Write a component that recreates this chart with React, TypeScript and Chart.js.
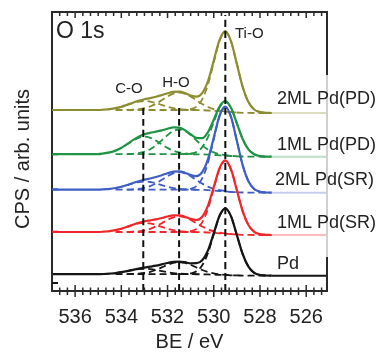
import React, { useEffect, useRef } from "react";
import { Chart, registerables } from "chart.js";

Chart.register(...registerables);

// ---------- data ----------
const X_MIN = 525.1;
const X_MAX = 537;
const X_TICKS = [536, 534, 532, 530, 528, 526];

// binding energies (eV)
const X_LEFT = [537, 536, 535.5, 535.0];
const X_FIT = [
  534.75, 534.5, 534.25, 534.0, 533.75, 533.5, 533.25, 533.0, 532.75, 532.5,
  532.25, 532.0, 531.75, 531.5, 531.25, 531.0, 530.75, 530.5, 530.25, 530.0,
  529.75, 529.5, 529.25, 529.0, 528.75, 528.5, 528.25, 528.0, 527.75, 527.5,
];
const CO_START = 2; // first X_FIT index of C-O component
const HO_START = 4; // first X_FIT index of H-O component
const TIO_START = 13; // first X_FIT index of Ti-O component
const BG_START = 2;

const SAMPLES = ["Pd", "1ML Pd(SR)", "2ML Pd(SR)", "1ML Pd(PD)", "2ML Pd(PD)"];
const OFFSETS = [15.3, 56, 98.3, 134.3, 178];
const AXIS_MARKS = [8, 59.3, 101.7, 136.7, 181];

const REF_POS = [533.05, 531.5, 529.5];
const REF_NAMES = ["C-O", "H-O", "Ti-O"];
const REF_TOPS = [184, 184, 276];

// measured spectra (relative to each spectrum's own offset)
const ENV_PD = [1.5, 1.5, 1.5, 1.5, 1.7, 2.1, 2.6, 3.5, 4.6, 5.9, 7.1, 8.1, 9.0, 10.0, 11.3, 12.7, 13.9, 14.1, 13.5, 12.4, 12.5, 15.5, 25.3, 42.6, 60.0, 67.3, 59.2, 40.6, 21.7, 9.1, 2.9, 0.7, 0.2, 0];
const ENV_1SR = [3, 3, 3, 3, 3.4, 3.9, 4.9, 6.3, 8.2, 10.3, 12.2, 13.7, 14.7, 15.7, 17.0, 18.5, 19.6, 19.6, 18.3, 16.1, 15.0, 18.3, 29.4, 48.0, 66.8, 74.6, 65.3, 44.8, 23.9, 10.0, 3.2, 0.8, 0.2, 0];
const ENV_2SR = [3, 3, 3, 3, 3.4, 3.8, 4.7, 6.0, 7.7, 9.7, 11.5, 13.0, 14.2, 15.7, 17.5, 19.5, 21.1, 21.4, 20.0, 17.6, 16.5, 20.5, 33.5, 55.1, 77.1, 86.1, 75.5, 51.7, 27.6, 11.5, 3.7, 0.9, 0.2, 0];
const ENV_1PD = [2.5, 2.5, 2.5, 2.5, 3.3, 4.3, 6.1, 8.8, 12.5, 16.5, 20.0, 22.5, 23.9, 25.0, 26.3, 27.9, 29.3, 29.0, 26.6, 22.5, 18.8, 18.5, 24.6, 37.0, 50.2, 55.5, 48.6, 33.3, 17.7, 7.4, 2.4, 0.6, 0.1, 0];
const ENV_2PD = [3, 3, 3, 3, 3.4, 3.9, 4.8, 6.2, 8.2, 10.3, 12.2, 13.8, 14.9, 16.3, 17.9, 19.7, 21.1, 21.3, 19.9, 17.5, 16.3, 19.9, 32.0, 52.4, 73.1, 81.6, 71.5, 49.0, 26.2, 10.9, 3.5, 0.9, 0.2, 0];

// backgrounds on X_FIT
const BG_PD = [1.5, 1.5, 1.5, 1.5, 1.5, 1.5, 1.5, 1.5, 1.5, 1.5, 1.5, 1.5, 1.5, 1.5, 1.5, 1.5, 1.45, 1.4, 1.25, 1.05, 0.8, 0.6, 0.4, 0.25, 0.1, 0.05, 0, 0, 0, 0];
const BG_1SR = [3, 3, 3, 3, 3, 3, 3, 3, 3, 3, 3, 3, 3, 3, 3, 3, 2.9, 2.8, 2.5, 2.1, 1.7, 1.3, 0.8, 0.5, 0.2, 0.1, 0, 0, 0, 0];
const BG_2SR = [3, 3, 3, 3, 3, 3, 3, 3, 3, 3, 3, 3, 3, 3, 3, 3, 2.9, 2.8, 2.5, 2.1, 1.7, 1.3, 0.8, 0.5, 0.2, 0.1, 0, 0, 0, 0];
const BG_1PD = [2.5, 2.5, 2.5, 2.5, 2.5, 2.5, 2.5, 2.5, 2.5, 2.5, 2.5, 2.5, 2.5, 2.5, 2.5, 2.5, 2.4, 2.3, 2.1, 1.75, 1.4, 1.05, 0.7, 0.4, 0.2, 0.1, 0, 0, 0, 0];
const BG_2PD = [3, 3, 3, 3, 3, 3, 3, 3, 3, 3, 3, 3, 3, 3, 3, 3, 2.9, 2.8, 2.5, 2.1, 1.7, 1.3, 0.8, 0.5, 0.2, 0.1, 0, 0, 0, 0];

// fitted components (height above background)
const CO_PD = [1.1, 1.94, 3.04, 4.19, 5.07, 5.4, 5.07, 4.19, 3.04, 1.94, 1.1, 0.55, 0.24, 0.09, 0.03];
const HO_PD = [0.07, 0.2, 0.53, 1.21, 2.44, 4.32, 6.76, 9.3, 11.26, 12, 11.26, 9.3, 6.76, 4.32, 2.44, 1.21, 0.53, 0.2, 0.07, 0.02];
const TIO_PD = [0.02, 0.15, 0.74, 2.92, 9.0, 21.6, 40.3, 58.7, 66.5, 58.7, 40.3, 21.6, 9.0, 2.92, 0.74, 0.15];

const CO_1SR = [1.85, 3.28, 5.12, 7.05, 8.54, 9.1, 8.54, 7.05, 5.12, 3.28, 1.85, 0.92, 0.4, 0.15, 0.05];
const HO_1SR = [0.09, 0.27, 0.69, 1.59, 3.19, 5.65, 8.84, 12.17, 14.73, 15.7, 14.73, 12.17, 8.84, 5.65, 3.19, 1.59, 0.69, 0.27, 0.09, 0.03];
const TIO_1SR = [0.02, 0.16, 0.81, 3.2, 9.88, 23.7, 44.3, 64.4, 73, 64.4, 44.3, 23.7, 9.88, 3.2, 0.81, 0.16];

const CO_2SR = [1.66, 2.95, 4.62, 6.36, 7.69, 8.2, 7.69, 6.36, 4.62, 2.95, 1.66, 0.83, 0.36, 0.14, 0.05];
const HO_2SR = [0.1, 0.3, 0.77, 1.77, 3.55, 6.3, 9.85, 13.56, 16.4, 17.5, 16.4, 13.56, 9.85, 6.3, 3.55, 1.77, 0.77, 0.3, 0.1, 0.03];
const TIO_2SR = [0.03, 0.19, 0.94, 3.71, 11.43, 27.4, 51.2, 74.6, 84.5, 74.6, 51.2, 27.4, 11.43, 3.71, 0.94, 0.19];

const CO_1PD = [3.55, 6.3, 9.85, 13.56, 16.4, 17.5, 16.4, 13.56, 9.85, 6.3, 3.55, 1.77, 0.77, 0.3, 0.1];
const HO_1PD = [0.14, 0.42, 1.09, 2.49, 5.01, 8.89, 13.9, 19.1, 23.2, 24.7, 23.2, 19.1, 13.9, 8.89, 5.01, 2.49, 1.09, 0.42, 0.15, 0.05];
const TIO_1PD = [0.02, 0.12, 0.6, 2.37, 7.31, 17.5, 32.8, 47.7, 54, 47.7, 32.8, 17.5, 7.31, 2.37, 0.6, 0.12];

const CO_2PD = [1.8, 3.2, 5.1, 7.0, 8.4, 9.0, 8.4, 7.0, 5.1, 3.2, 1.8, 0.9, 0.4, 0.15, 0.05];
const HO_2PD = [0.1, 0.3, 0.77, 1.76, 3.53, 6.26, 9.8, 13.5, 16.3, 17.4, 16.3, 13.5, 9.8, 6.26, 3.53, 1.76, 0.77, 0.3, 0.1, 0.03];
const TIO_2PD = [0.02, 0.18, 0.89, 3.5, 10.8, 26.0, 48.5, 70.6, 80, 70.6, 48.5, 26.0, 10.8, 3.5, 0.89, 0.18];

const ENVS = [ENV_PD, ENV_1SR, ENV_2SR, ENV_1PD, ENV_2PD];
const BGS = [BG_PD, BG_1SR, BG_2SR, BG_1PD, BG_2PD];
const COS = [CO_PD, CO_1SR, CO_2SR, CO_1PD, CO_2PD];
const HOS = [HO_PD, HO_1SR, HO_2SR, HO_1PD, HO_2PD];
const TIOS = [TIO_PD, TIO_1SR, TIO_2SR, TIO_1PD, TIO_2PD];

const COLORS = ["#151515", "#f0262b", "#3f5ec4", "#219345", "#8c8c30"];
const FADED = ["#151515", "rgba(240,38,43,0.3)", "rgba(63,94,196,0.3)", "rgba(33,147,69,0.3)", "rgba(140,140,48,0.3)"];
const FONT = "'Liberation Sans', Arial, Helvetica, sans-serif";

function buildDatasets() {
  const ds: any[] = [];
  REF_POS.forEach((v, i) => {
    ds.push({
      data: [{ x: v, y: 0 }, { x: v, y: REF_TOPS[i] }],
      borderColor: "#111",
      borderWidth: 2,
      borderDash: [7, 4],
    });
  });
  const xEnv = X_LEFT.concat(X_FIT);
  ENVS.forEach((env, i) => {
    ds.push({
      data: xEnv.map((x, k) => ({ x, y: OFFSETS[i] + env[k] })),
      borderColor: COLORS[i],
      borderWidth: 2.2,
    });
  });
  const comp = (arr: number[], start: number, i: number) =>
    arr.map((v, k) => ({ x: X_FIT[start + k], y: OFFSETS[i] + BGS[i][start + k] + v }));
  for (let i = 0; i < ENVS.length; i++) {
    const dashed = { borderColor: COLORS[i], borderWidth: 1.8, borderDash: [7, 4] };
    ds.push({ data: comp(TIOS[i], TIO_START, i), ...dashed });
    ds.push({ data: comp(HOS[i], HO_START, i), ...dashed });
    ds.push({ data: comp(COS[i], CO_START, i), ...dashed });
    ds.push({
      data: X_FIT.slice(BG_START).map((x, k) => ({ x, y: OFFSETS[i] + BGS[i][BG_START + k] })),
      ...dashed,
    });
    ds.push({
      data: [{ x: X_FIT[X_FIT.length - 1], y: OFFSETS[i] }, { x: X_MIN, y: OFFSETS[i] }],
      borderColor: FADED[i],
      borderWidth: 2,
    });
  }
  return ds;
}

const decorPlugin = {
  id: "decor",
  afterDraw(chart: any) {
    const { ctx, chartArea } = chart;
    const { left, right, top, bottom } = chartArea;
    const xs = chart.scales.x;
    const ys = chart.scales.y;
    ctx.save();
    const line = (x1: number, y1: number, x2: number, y2: number) => {
      ctx.beginPath();
      ctx.moveTo(x1, y1);
      ctx.lineTo(x2, y2);
      ctx.stroke();
    };
    ctx.lineCap = "butt";
    ctx.strokeStyle = "#2a2a2a";
    ctx.lineWidth = 2;
    line(left, top - 1, left, bottom + 1);
    line(left, top, right, top);
    line(left, bottom, right, bottom);
    line(right, top - 1, right, 75);
    line(right, 257, right, bottom + 1);
    ctx.strokeStyle = "#d0d0d0";
    line(right, 75, right, 257);

    // ticks every 1/3 eV, major every 2 eV
    ctx.strokeStyle = "#2a2a2a";
    ctx.lineWidth = 1.5;
    for (let k = 0; k <= 36; k++) {
      const v = 525 + k / 3;
      if (v < X_MIN - 1e-6 || v > X_MAX - 0.1) continue;
      const px = xs.getPixelForValue(v);
      const major = k % 6 === 3;
      line(px, bottom - (major ? 6 : 3.5), px, bottom + (major ? 6 : 4));
      line(px, top, px, top + (major ? 6 : 4));
    }
    // left axis marks
    ctx.lineWidth = 2;
    AXIS_MARKS.forEach((v, i) => {
      const py = ys.getPixelForValue(v);
      ctx.strokeStyle = COLORS[i];
      line(left, py, left + 6, py);
    });

    ctx.fillStyle = "#222";
    ctx.textBaseline = "middle";
    // y title
    ctx.save();
    ctx.translate(23.5, 159);
    ctx.rotate(-Math.PI / 2);
    ctx.textAlign = "center";
    ctx.font = `20px ${FONT}`;
    ctx.fillText("CPS / arb. units", 0, 0);
    ctx.restore();

    ctx.textAlign = "left";
    ctx.font = `23px ${FONT}`;
    ctx.fillText("O 1s", 56, 32);

    ctx.font = `15px ${FONT}`;
    ctx.textAlign = "center";
    ctx.fillText(REF_NAMES[0], 129, 88.5);
    ctx.fillText(REF_NAMES[1], 176, 82.5);
    ctx.textAlign = "left";
    ctx.fillText(REF_NAMES[2], 235, 34);

    ctx.font = `18px ${FONT}`;
    const labelY = [264, 223, 180.5, 145.5, 99];
    SAMPLES.forEach((s, i) => {
      ctx.fillText(s, i === 2 ? 275 : 277, labelY[i]);
    });
    ctx.restore();
  },
};

export default function App() {
  const ref = useRef<HTMLCanvasElement>(null);
  useEffect(() => {
    const chart = new Chart(ref.current as HTMLCanvasElement, {
      type: "line",
      data: { datasets: buildDatasets() },
      options: {
        animation: false,
        responsive: false,
        parsing: true,
        layout: { padding: { top: 12, right: 52, left: 0, bottom: 0 } },
        elements: {
          point: { radius: 0, hoverRadius: 0 },
          line: { cubicInterpolationMode: "monotone", fill: false },
        },
        plugins: { legend: { display: false }, tooltip: { enabled: false } },
        events: [],
        scales: {
          x: {
            type: "linear",
            reverse: true,
            min: X_MIN,
            max: X_MAX,
            grid: { display: false },
            border: { display: false },
            afterBuildTicks: (s: any) => {
              s.ticks = X_TICKS.map((v) => ({ value: v }));
            },
            afterFit: (s: any) => {
              s.height = 61;
            },
            ticks: {
              autoSkip: false,
              maxRotation: 0,
              padding: 6,
              color: "#222",
              font: { family: FONT, size: 20 },
              callback: (v: any) => String(v),
            },
            title: {
              display: true,
              text: "BE / eV",
              color: "#222",
              font: { family: FONT, size: 20, lineHeight: 1 },
              padding: { top: 0, bottom: 0 },
            },
          },
          y: {
            type: "linear",
            min: 0,
            max: 279,
            grid: { display: false },
            border: { display: false },
            ticks: { display: false },
            afterFit: (s: any) => {
              s.width = 52;
            },
          },
        },
      },
      plugins: [decorPlugin],
    } as any);
    return () => chart.destroy();
  }, []);
  return (
    <div style={{ position: "fixed", left: 0, top: 0, width: 379, height: 352, background: "#fff" }}>
      <canvas ref={ref} width={379} height={352} style={{ display: "block" }} />
    </div>
  );
}
